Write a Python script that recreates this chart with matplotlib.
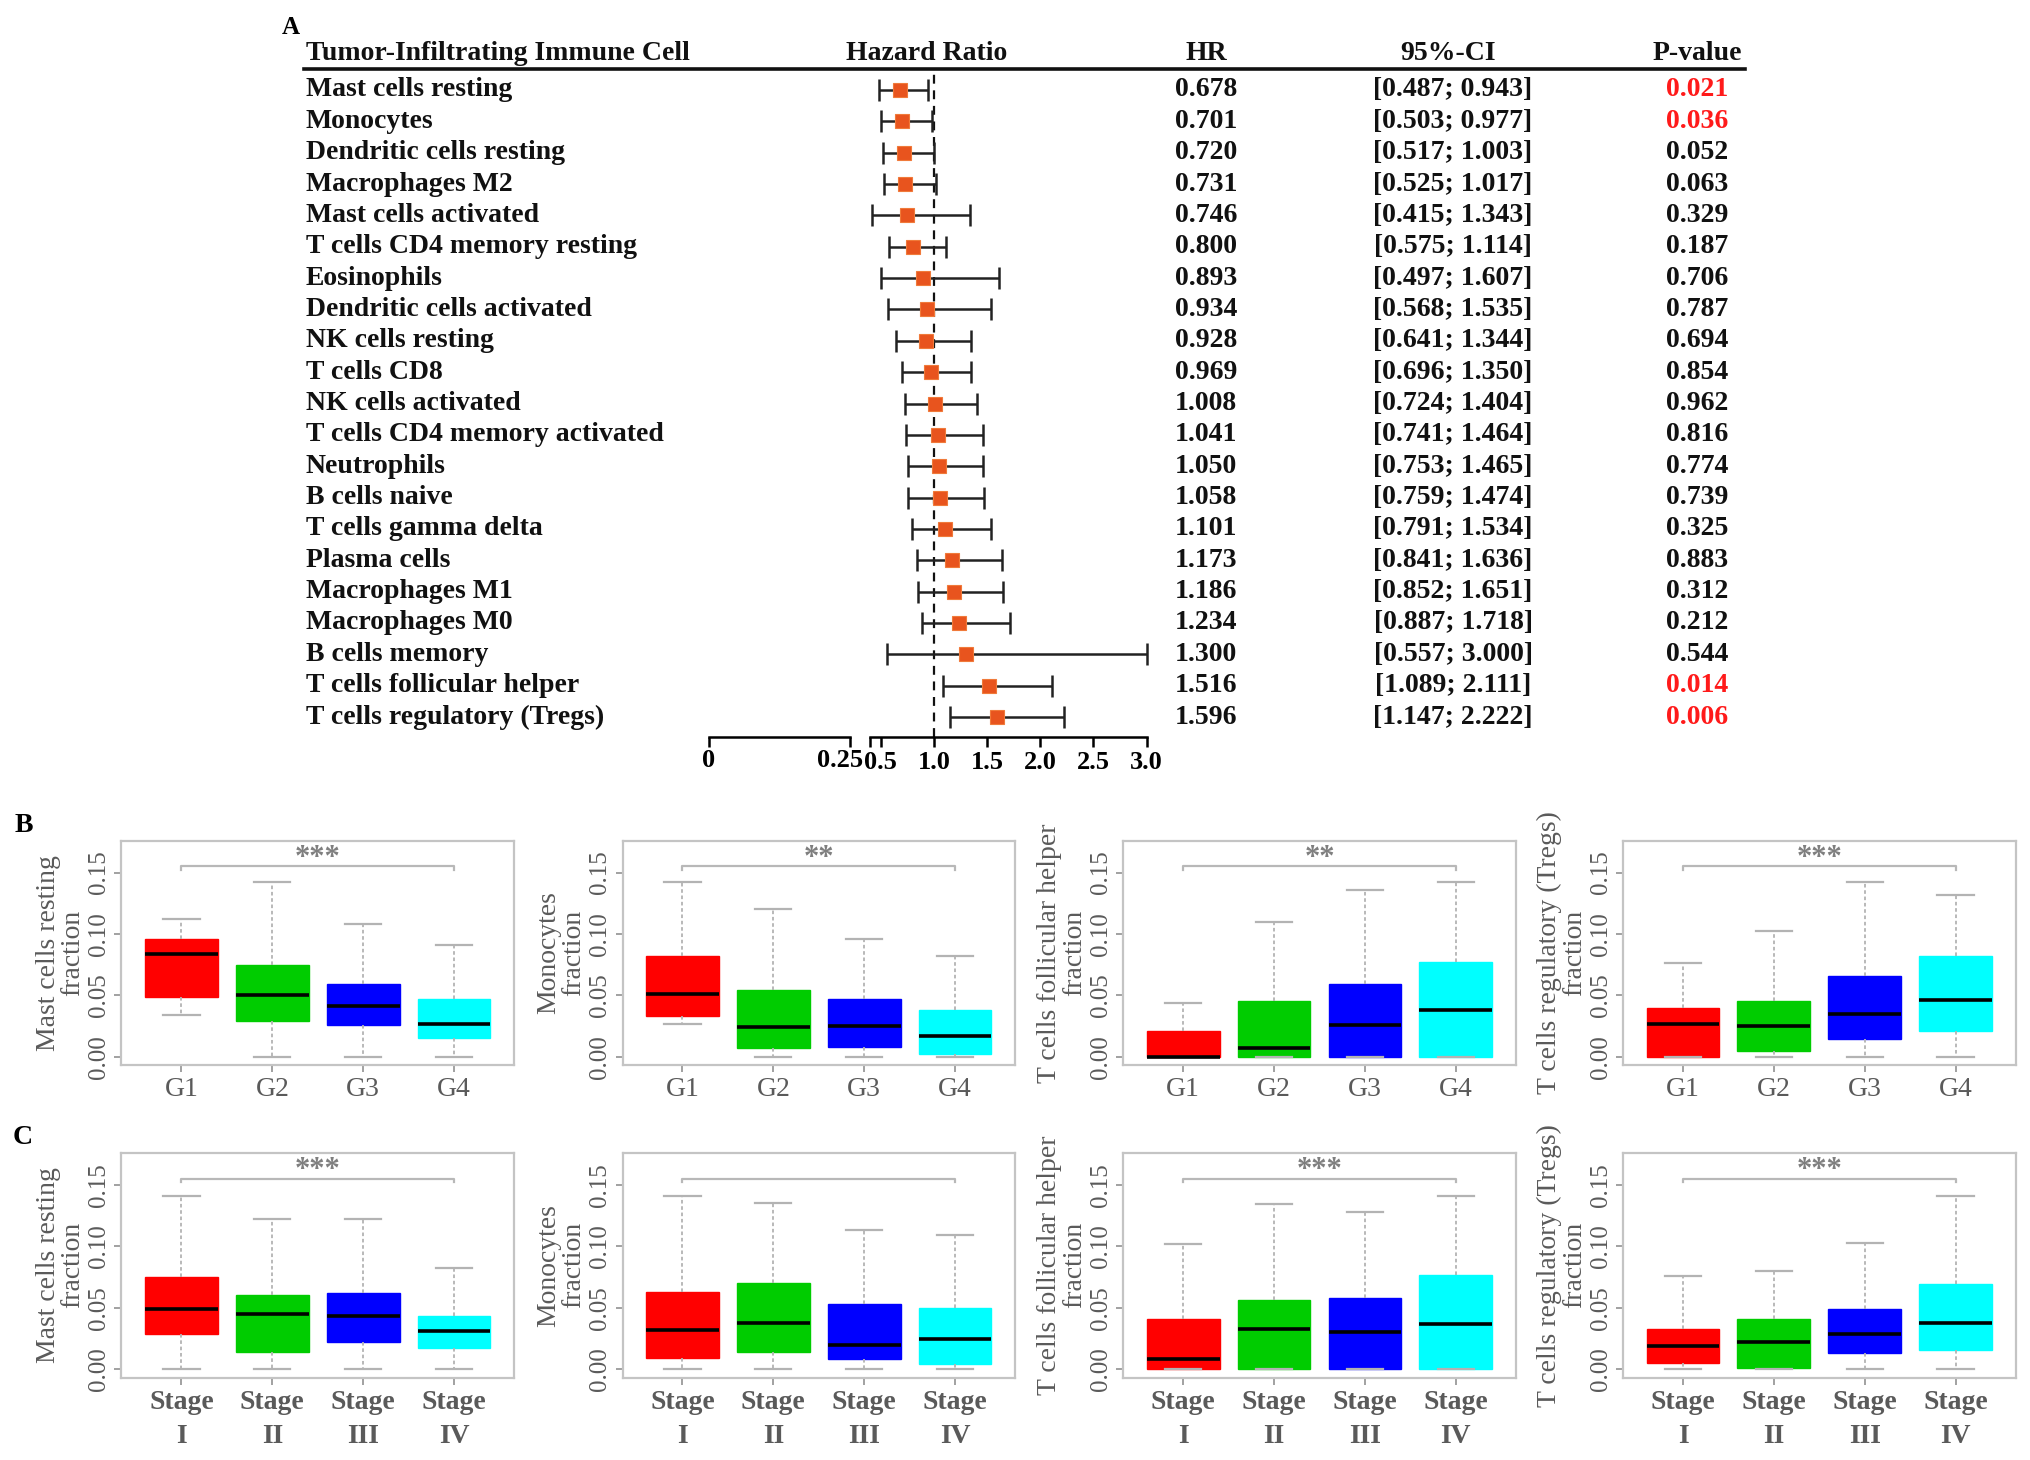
import matplotlib
matplotlib.use("Agg")
import matplotlib.pyplot as plt
from matplotlib.lines import Line2D
from matplotlib.transforms import blended_transform_factory, ScaledTranslation
import numpy as np

plt.rcParams['font.family'] = ['Liberation Serif', 'DejaVu Serif']

# ---- panel A : Cox regression of immune cell fractions ----
cells = ["Mast cells resting", "Monocytes", "Dendritic cells resting", "Macrophages M2",
         "Mast cells activated", "T cells CD4 memory resting", "Eosinophils",
         "Dendritic cells activated", "NK cells resting", "T cells CD8", "NK cells activated",
         "T cells CD4 memory activated", "Neutrophils", "B cells naive", "T cells gamma delta",
         "Plasma cells", "Macrophages M1", "Macrophages M0", "B cells memory",
         "T cells follicular helper", "T cells regulatory (Tregs)"]
hr = [0.678, 0.701, 0.720, 0.731, 0.746, 0.800, 0.893, 0.934, 0.928, 0.969, 1.008,
      1.041, 1.050, 1.058, 1.101, 1.173, 1.186, 1.234, 1.300, 1.516, 1.596]
ci_lo = [0.487, 0.503, 0.517, 0.525, 0.415, 0.575, 0.497, 0.568, 0.641, 0.696, 0.724,
         0.741, 0.753, 0.759, 0.791, 0.841, 0.852, 0.887, 0.557, 1.089, 1.147]
ci_hi = [0.943, 0.977, 1.003, 1.017, 1.343, 1.114, 1.607, 1.535, 1.344, 1.350, 1.404,
         1.464, 1.465, 1.474, 1.534, 1.636, 1.651, 1.718, 3.000, 2.111, 2.222]
pvals = [0.021, 0.036, 0.052, 0.063, 0.329, 0.187, 0.706, 0.787, 0.694, 0.854, 0.962,
         0.816, 0.774, 0.739, 0.325, 0.883, 0.312, 0.212, 0.544, 0.014, 0.006]
hr_ticks = [0.5, 1.0, 1.5, 2.0, 2.5, 3.0]

# ---- panels B, C : box plot summaries (rows: low whisker, Q1, median, Q3, high whisker) ----
grade_labels = ["G1", "G2", "G3", "G4"]
stage_labels = ["Stage\nI", "Stage\nII", "Stage\nIII", "Stage\nIV"]

mast_grade = [[0.034, 0.000, 0.000, 0.000],
              [0.049, 0.029, 0.026, 0.015],
              [0.084, 0.050, 0.041, 0.027],
              [0.096, 0.075, 0.059, 0.047],
              [0.112, 0.142, 0.108, 0.091]]
mono_grade = [[0.027, 0.000, 0.000, 0.000],
              [0.033, 0.007, 0.008, 0.002],
              [0.051, 0.024, 0.025, 0.017],
              [0.082, 0.054, 0.047, 0.038],
              [0.142, 0.120, 0.096, 0.082]]
tfh_grade = [[0.000, 0.000, 0.000, 0.000],
             [0.000, 0.000, 0.000, 0.000],
             [0.000, 0.007, 0.026, 0.038],
             [0.021, 0.045, 0.059, 0.077],
             [0.044, 0.110, 0.136, 0.142]]
treg_grade = [[0.000, 0.000, 0.000, 0.000],
              [0.000, 0.005, 0.014, 0.021],
              [0.027, 0.025, 0.035, 0.046],
              [0.040, 0.045, 0.066, 0.082],
              [0.076, 0.102, 0.142, 0.132]]
mast_stage = [[0.000, 0.000, 0.000, 0.000],
              [0.029, 0.014, 0.022, 0.017],
              [0.049, 0.045, 0.043, 0.031],
              [0.075, 0.060, 0.062, 0.043],
              [0.141, 0.122, 0.122, 0.082]]
mono_stage = [[0.000, 0.000, 0.000, 0.000],
              [0.009, 0.014, 0.008, 0.004],
              [0.032, 0.038, 0.020, 0.025],
              [0.063, 0.070, 0.053, 0.050],
              [0.141, 0.135, 0.113, 0.109]]
tfh_stage = [[0.000, 0.000, 0.000, 0.000],
             [0.000, 0.000, 0.000, 0.000],
             [0.008, 0.033, 0.030, 0.037],
             [0.041, 0.056, 0.058, 0.077],
             [0.102, 0.134, 0.128, 0.141]]
treg_stage = [[0.000, 0.000, 0.000, 0.000],
              [0.005, 0.001, 0.013, 0.016],
              [0.019, 0.022, 0.029, 0.038],
              [0.033, 0.041, 0.049, 0.069],
              [0.076, 0.080, 0.103, 0.141]]

ylabels = ["Mast cells resting\nfraction", "Monocytes\nfraction",
           "T cells follicular helper\nfraction", "T cells regulatory (Tregs)\nfraction"]
grade_stars = ["***", "**", "**", "***"]
stage_stars = ["***", "", "***", "***"]
box_colors = ["#ff0000", "#00cc00", "#0000ff", "#00ffff"]

W, H = 2031, 1460
fig = plt.figure(figsize=(W / 100, H / 100), dpi=100)


def px_axes(x0, y0, x1, y1):
    return fig.add_axes([x0 / W, 1 - y1 / H, (x1 - x0) / W, (y1 - y0) / H])


# forest plot area
row0, drow = 90.0, 31.35
f_top, f_bot = 69.3, 737.3
x_one, px_unit = 934.0, 106.3
fx0, fx1 = 860.0, 1160.0
ax_f = px_axes(fx0, f_top, fx1, f_bot)
ax_f.set_xlim(1 - (x_one - fx0) / px_unit, 1 + (fx1 - x_one) / px_unit)
ax_f.set_ylim((f_bot - row0) / drow, (f_top - row0) / drow)
ax_f.patch.set_alpha(0)

rows = np.arange(len(cells))
hr_a = np.array(hr)
lo_a = np.array(ci_lo)
hi_a = np.array(ci_hi)
ax_f.axvline(1.0, color="#111111", lw=1.6, ls=(0, (4, 3)), zorder=1)
ax_f.errorbar(hr_a, rows, xerr=[hr_a - lo_a, hi_a - hr_a], fmt="none", ecolor="#222222",
              elinewidth=1.8, capsize=8, capthick=1.8, zorder=2)
ax_f.plot(hr_a, rows, "s", color="#e8541e", ms=10, mec="#f07a3a", mew=0.8, zorder=3)

for s in ["top", "left", "right"]:
    ax_f.spines[s].set_visible(False)
ax_f.spines["bottom"].set_bounds(0.4, 3.0)
ax_f.spines["bottom"].set_linewidth(1.8)
ax_f.set_yticks([])
ax_f.set_xticks([0.4] + hr_ticks)
ax_f.set_xticklabels([""] + [f"{t:.1f}" for t in hr_ticks])
ax_f.tick_params(axis="x", direction="out", length=7, width=1.8, labelsize=19, pad=3)
for lbl in ax_f.get_xticklabels():
    lbl.set_fontweight("bold")

# broken-off left segment of the HR axis
ax_b = px_axes(709, 700, 850, f_bot)
ax_b.set_xlim(0, 0.25)
ax_b.patch.set_alpha(0)
for s in ["top", "left", "right"]:
    ax_b.spines[s].set_visible(False)
ax_b.spines["bottom"].set_linewidth(1.8)
ax_b.set_yticks([])
ax_b.set_xticks([0, 0.25])
ax_b.set_xticklabels(["", ""])
ax_b.tick_params(axis="x", direction="out", length=7, width=1.8, pad=3)
seg_tr = ax_b.get_xaxis_transform()
ax_b.text(0, 0, "0", transform=seg_tr + ScaledTranslation(0, -0.12, fig.dpi_scale_trans),
          ha="center", va="top", fontsize=19, fontweight="bold", clip_on=False)
ax_b.text(0.25, 0, "0.25", transform=seg_tr + ScaledTranslation(0.135, -0.12, fig.dpi_scale_trans),
          ha="right", va="top", fontsize=19, fontweight="bold", clip_on=False)

# table columns
tr = blended_transform_factory(fig.transFigure, ax_f.transData)
hdr_y = (53.0 - row0) / drow
tkw = dict(transform=tr, fontsize=20, fontweight="bold", va="center", color="#111111")
fig.text(306 / W, hdr_y, "Tumor-Infiltrating Immune Cell", ha="left", **tkw)
fig.text(927 / W, hdr_y, "Hazard Ratio", ha="center", **tkw)
fig.text(1206 / W, hdr_y, "HR", ha="center", **tkw)
fig.text(1448 / W, hdr_y, "95%-CI", ha="center", **tkw)
fig.text(1697 / W, hdr_y, "P-value", ha="center", **tkw)
fig.add_artist(Line2D([304 / W, 1745 / W], [1 - f_top / H] * 2, transform=fig.transFigure,
                      color="#111111", lw=2.6))

for i, name in enumerate(cells):
    fig.text(306 / W, i, name, ha="left", **tkw)
    fig.text(1206 / W, i, f"{hr[i]:.3f}", ha="center", **tkw)
    fig.text(1453 / W, i, f"[{ci_lo[i]:.3f}; {ci_hi[i]:.3f}]", ha="center", **tkw)
    pkw = dict(tkw)
    pkw["color"] = "#ff1a1a" if pvals[i] < 0.05 else "#111111"
    fig.text(1697 / W, i, f"{pvals[i]:.3f}", ha="center", **pkw)

fig.text(291 / W, 1 - 27 / H, "A", ha="center", va="center", fontsize=18, fontweight="bold")
fig.text(24 / W, 1 - 826 / H, "B", ha="center", va="center", fontsize=20, fontweight="bold")
fig.text(23 / W, 1 - 1138 / H, "C", ha="center", va="center", fontsize=20, fontweight="bold")


def draw_box(ax, stats, xlabels, stars, ylab, bold_x):
    st = [dict(whislo=a, q1=b, med=c, q3=d, whishi=e, fliers=[]) for a, b, c, d, e in zip(*stats)]
    bp = ax.bxp(st, positions=[1, 2, 3, 4], widths=0.8, capwidths=0.4, patch_artist=True,
                showfliers=False,
                whiskerprops=dict(color="#b3b3b3", lw=1.3, ls=(0, (2, 1.5))),
                capprops=dict(color="#b3b3b3", lw=1.6),
                medianprops=dict(color="#000000", lw=2.6))
    for patch, c in zip(bp["boxes"], box_colors):
        patch.set_facecolor(c)
        patch.set_edgecolor(c)
        patch.set_linewidth(1)
    ax.set_xlim(0.34, 4.66)
    ax.set_ylim(-0.0068, 0.176)
    yb = 0.155
    ax.plot([1, 1, 4, 4], [yb - 0.003, yb, yb, yb - 0.003], color="#b8b8b8", lw=1.6)
    if stars:
        ax.text(2.5, yb + 0.0005, stars, ha="center", va="baseline", color="#7f7f7f",
                fontsize=22, fontweight="bold")
    for s in ax.spines.values():
        s.set_color("#c4c4c4")
        s.set_linewidth(1.6)
    ax.set_yticks([0, 0.05, 0.10, 0.15])
    ax.set_yticklabels(["0.00", "0.05", "0.10", "0.15"], rotation=90, va="center")
    ax.set_xticks([1, 2, 3, 4])
    ax.set_xticklabels(xlabels, linespacing=1.45,
                       fontweight="bold" if bold_x else "normal",
                       fontsize=20)
    ax.tick_params(axis="y", length=5, width=1.3, color="#9a9a9a", labelsize=18,
                   labelcolor="#5a5a5a", pad=3)
    ax.tick_params(axis="x", length=5, width=1.3, color="#9a9a9a",
                   labelcolor="#5a5a5a", pad=4)
    ax.set_ylabel(ylab, fontsize=20, color="#5a5a5a", labelpad=2, linespacing=1.0)


col_left = [121.5, 622.5, 1123.3, 1623.0]
box_w = 392.5
grade_sets = [mast_grade, mono_grade, tfh_grade, treg_grade]
stage_sets = [mast_stage, mono_stage, tfh_stage, treg_stage]
for k in range(4):
    axb = px_axes(col_left[k], 840.7, col_left[k] + box_w, 1065.0)
    draw_box(axb, grade_sets[k], grade_labels, grade_stars[k], ylabels[k], False)
    axc = px_axes(col_left[k], 1152.7, col_left[k] + box_w, 1377.7)
    draw_box(axc, stage_sets[k], stage_labels, stage_stars[k], ylabels[k], True)

fig.savefig("out.png", dpi=100)
